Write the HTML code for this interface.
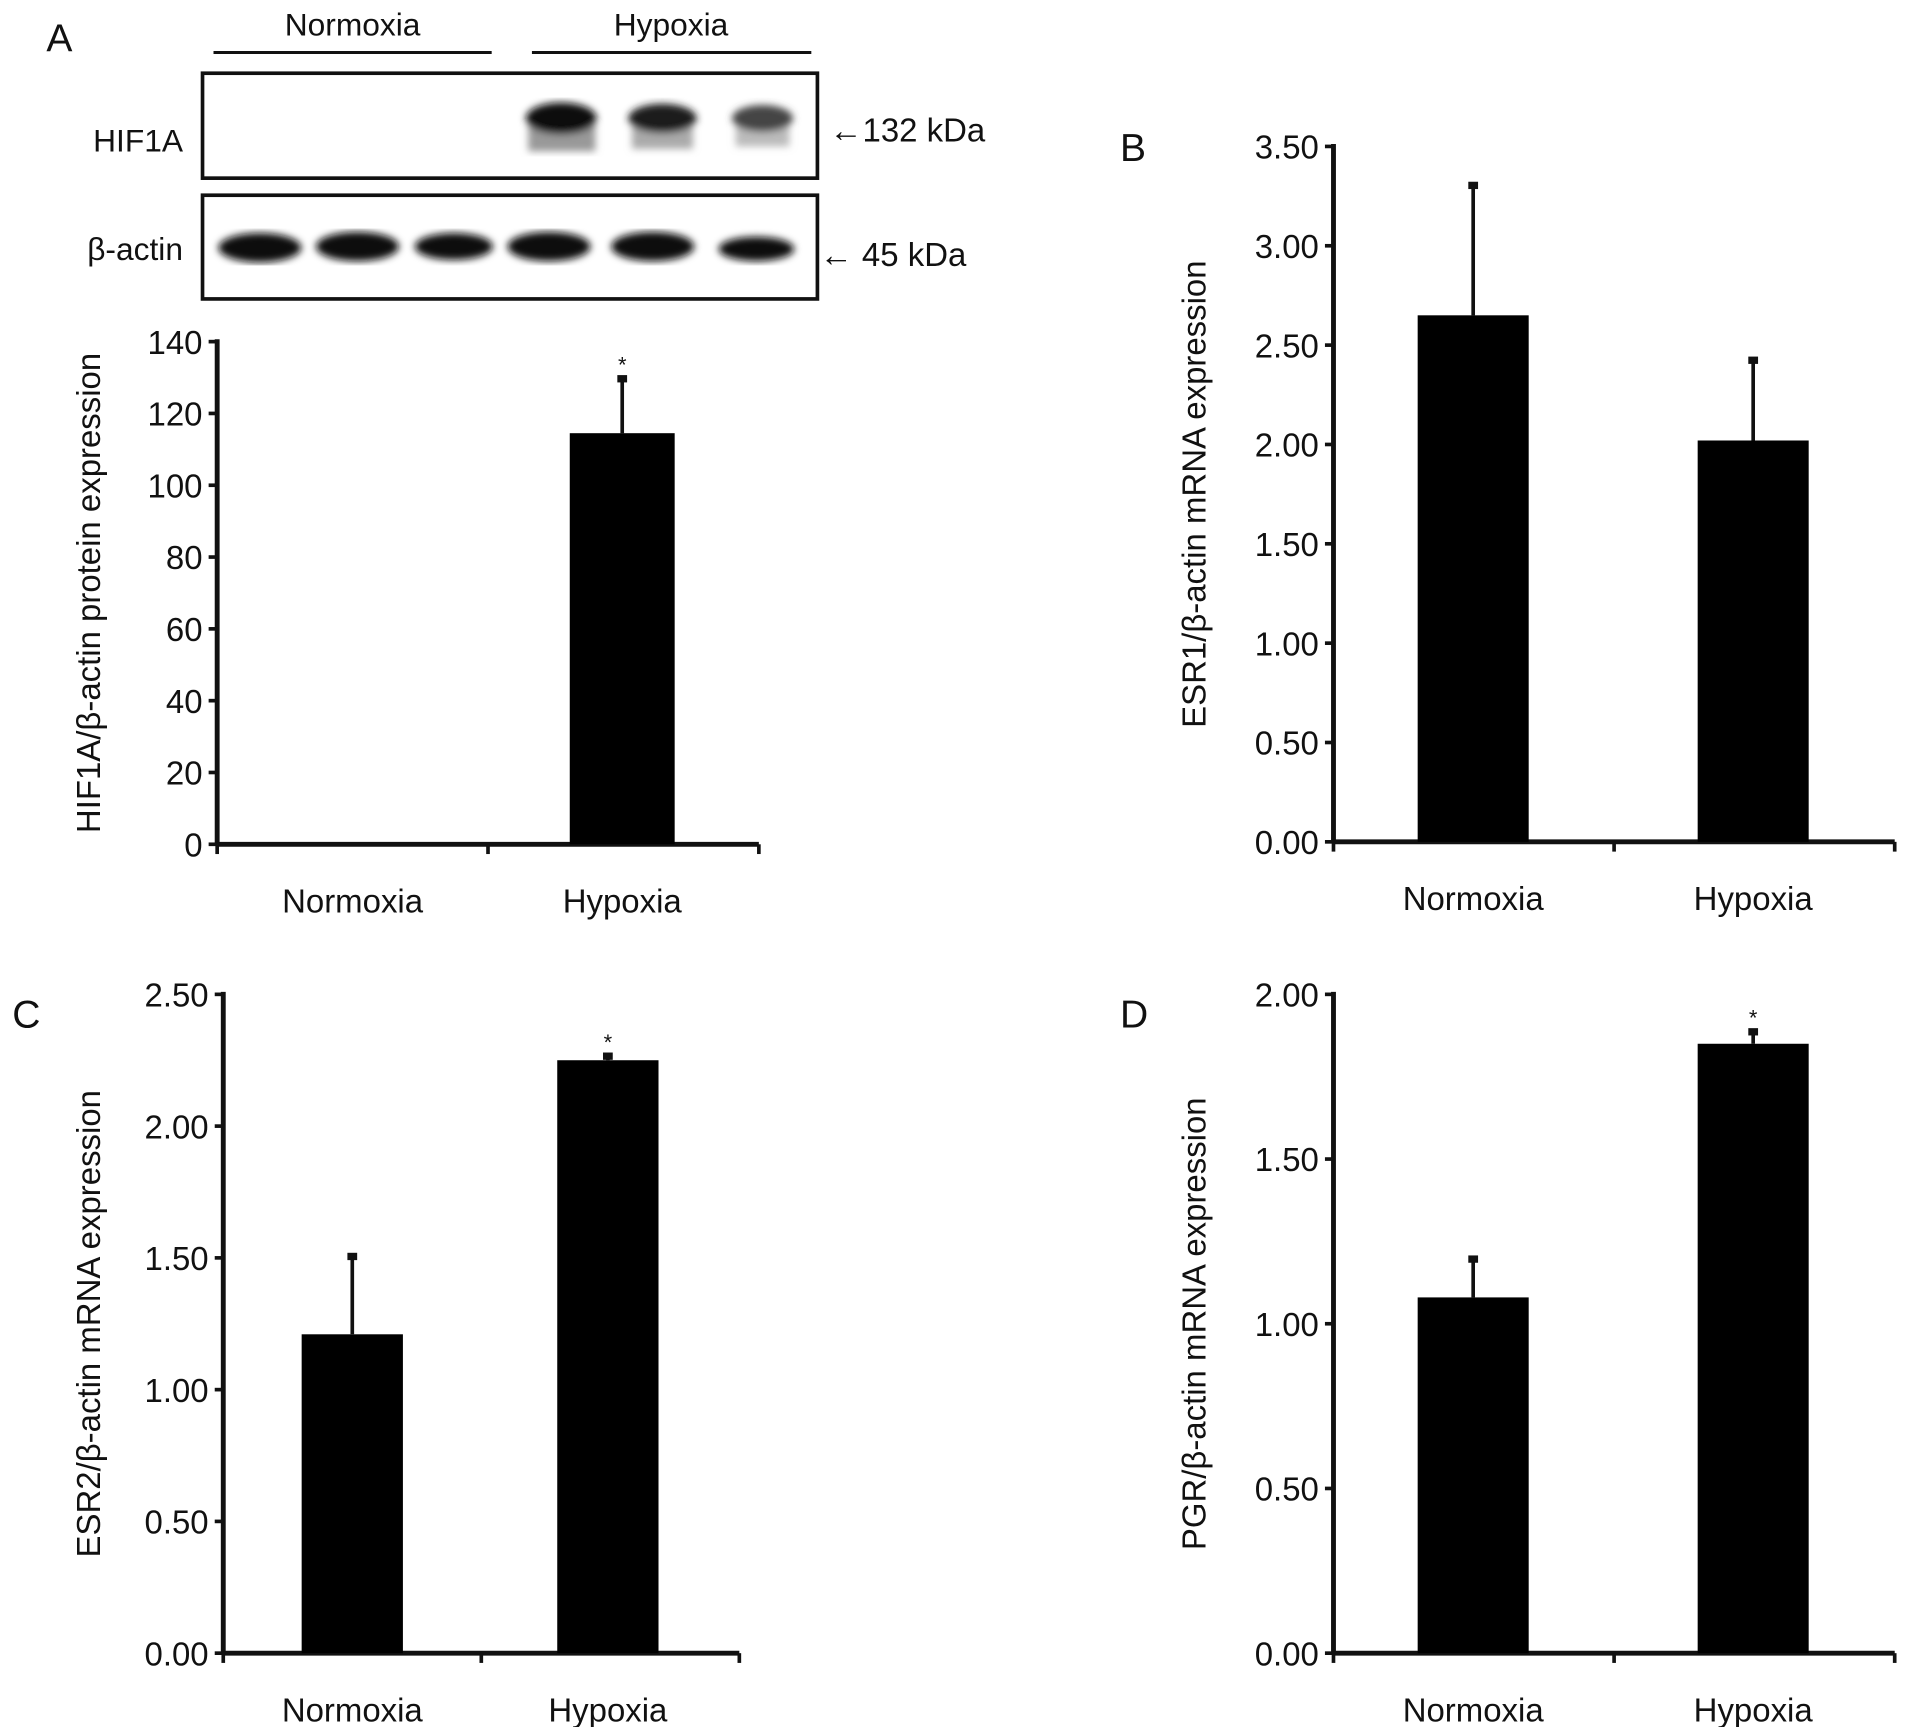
<!DOCTYPE html>
<html><head><meta charset="utf-8"><style>
html,body{margin:0;padding:0;background:#fff}
svg{display:block}
text{font-family:"Liberation Sans Narrow","Liberation Sans",sans-serif;fill:#111}
.t{font-family:"Liberation Sans",sans-serif}
</style></head><body>
<svg id="fig" width="1913" height="1727" viewBox="0 0 1568 1415.5">
<g>
<text x="38" y="42" font-size="32" class="t">A</text>
<text x="289" y="29" font-size="26" text-anchor="middle">Normoxia</text>
<text x="550" y="29" font-size="26" text-anchor="middle">Hypoxia</text>
<line x1="175" y1="43" x2="403" y2="43" stroke="#111" stroke-width="2.5"/>
<line x1="436" y1="43" x2="665" y2="43" stroke="#111" stroke-width="2.5"/>
<defs>
<filter id="blur"><feGaussianBlur stdDeviation="3"/></filter>
</defs>
<rect x="166" y="60" width="504" height="86" fill="#fff" stroke="#111" stroke-width="3"/>
<g filter="url(#blur)">
<rect x="433" y="100" width="55" height="24" fill="#999"/>
<rect x="518" y="100" width="50" height="22" fill="#aaa"/>
<rect x="603" y="100" width="44" height="20" fill="#bbb"/>
<ellipse cx="460" cy="97" rx="29" ry="13" fill="#111"/>
<ellipse cx="543" cy="97" rx="28" ry="12" fill="#1a1a1a"/>
<ellipse cx="625" cy="97" rx="25" ry="11" fill="#444"/>
</g>
<text x="150" y="124" font-size="26" text-anchor="end">HIF1A</text>
<text x="680" y="116" font-size="27">←132 kDa</text>
<rect x="166" y="160" width="504" height="85" fill="#fff" stroke="#111" stroke-width="3"/>
<g filter="url(#blur)" fill="#111">
<ellipse cx="213" cy="203" rx="34" ry="12"/><ellipse cx="293" cy="202" rx="34" ry="12"/>
<ellipse cx="372" cy="202" rx="32" ry="11"/><ellipse cx="450" cy="202" rx="34" ry="12"/>
<ellipse cx="535" cy="202" rx="34" ry="12"/><ellipse cx="620" cy="204" rx="31" ry="10"/>
</g>
<text x="150" y="213" font-size="26" text-anchor="end">β-actin</text>
<text x="672" y="218" font-size="27">← 45 kDa</text>
</g>
<text x="918" y="132" font-size="32" class="t">B</text>
<text x="10" y="842" font-size="32" class="t">C</text>
<text x="918" y="842" font-size="32" class="t">D</text>
</svg>
<script>
const categories = ["Normoxia","Hypoxia"];
const aValues = [0, 114.5];
const aErrors = [0, 15.5];
const aTicks = ["0","20","40","60","80","100","120","140"];
const bValues = [2.65, 2.02];
const bErrors = [0.66, 0.41];
const bTicks = ["0.00","0.50","1.00","1.50","2.00","2.50","3.00","3.50"];
const cValues = [1.21, 2.25];
const cErrors = [0.30, 0.02];
const cTicks = ["0.00","0.50","1.00","1.50","2.00","2.50"];
const dValues = [1.08, 1.85];
const dErrors = [0.12, 0.04];
const dTicks = ["0.00","0.50","1.00","1.50","2.00"];
const sig = [[false,true],[false,false],[false,true],[false,true]];

const NS="http://www.w3.org/2000/svg";
const svg=document.getElementById('fig');
function mk(tag,attrs,parent){const e=document.createElementNS(NS,tag);for(const k in attrs)e.setAttribute(k,attrs[k]);(parent||svg).appendChild(e);return e;}

function chart(name,cfg,values,errors,ticks,stars,title){
  const g=mk('g',{});
  
  
  const max=parseFloat(ticks[ticks.length-1]);
  const y=v=>cfg.y0-(v/max)*(cfg.y0-cfg.y1);
  const ax=mk('line',{x1:cfg.x0,y1:cfg.y1-2,x2:cfg.x0,y2:cfg.y0,stroke:'#111','stroke-width':4},g);
  
  
  const xa=mk('line',{x1:cfg.x0,y1:cfg.y0,x2:cfg.x2,y2:cfg.y0,stroke:'#111','stroke-width':4},g);
  
  
  const mid=(cfg.x0+cfg.x2)/2;
  [cfg.x0,mid,cfg.x2].forEach(x=>mk('line',{x1:x,y1:cfg.y0,x2:x,y2:cfg.y0+8,stroke:'#111','stroke-width':3},g));
  ticks.forEach(t=>{
    const v=parseFloat(t), yy=y(v);
    mk('line',{x1:cfg.x0-7,y1:yy,x2:cfg.x0,y2:yy,stroke:'#111','stroke-width':3},g);
    const tx=mk('text',{x:cfg.x0-12,y:yy+10,'font-size':27,'text-anchor':'end'},g);
    tx.textContent=t;
    
    
  });
  const seg=(cfg.x2-cfg.x0)/2;
  categories.forEach((c,i)=>{
    const cx=cfg.x0+seg*(i+0.5)+cfg.off[i];
    const bw=cfg.bw;
    const top=y(values[i]);
    if(values[i]>0){
      const et=y(values[i]+errors[i]);
      const el=mk('line',{x1:cx,y1:et,x2:cx,y2:top,stroke:'#111','stroke-width':3},g);
      
      
      mk('rect',{x:cx-4,y:et-2,width:8,height:6,fill:'#111'},g);
      const r=mk('rect',{x:cx-bw/2,y:top,width:bw,height:cfg.y0-top,fill:'#000'},g);
      
      
      if(stars[i]){
        const s=mk('text',{x:cx,y:et-4,'font-size':18,'text-anchor':'middle'},g);
        s.textContent='*';
        
        
      }
    }
    const lt=mk('text',{x:cx,y:cfg.y0+56,'font-size':27,'text-anchor':'middle'},g);
    lt.textContent=c;
    
    
  });
  const ty=(cfg.y0+cfg.y1)/2;
  const tt=mk('text',{x:cfg.tx,y:ty,'font-size':27,'text-anchor':'middle',class:'t',transform:`rotate(-90 ${cfg.tx} ${ty})`},g);
  tt.textContent=title;
  
  
}
chart('chart-a-hif1a',{x0:178,x2:622,y0:692,y1:280,bw:86,off:[0,-1],tx:82},aValues,aErrors,aTicks,sig[0],'HIF1A/β-actin protein expression');
chart('chart-b-esr1',{x0:1093,x2:1553,y0:690,y1:120,bw:91,off:[-0.5,-1],tx:988},bValues,bErrors,bTicks,sig[1],'ESR1/β-actin mRNA expression');
chart('chart-c-esr2',{x0:183,x2:606,y0:1355,y1:815,bw:83,off:[0,-2],tx:82},cValues,cErrors,cTicks,sig[2],'ESR2/β-actin mRNA expression');
chart('chart-d-pgr',{x0:1093,x2:1553,y0:1355,y1:815,bw:91,off:[-0.5,-1],tx:988},dValues,dErrors,dTicks,sig[3],'PGR/β-actin mRNA expression');
</script>
</body></html>
